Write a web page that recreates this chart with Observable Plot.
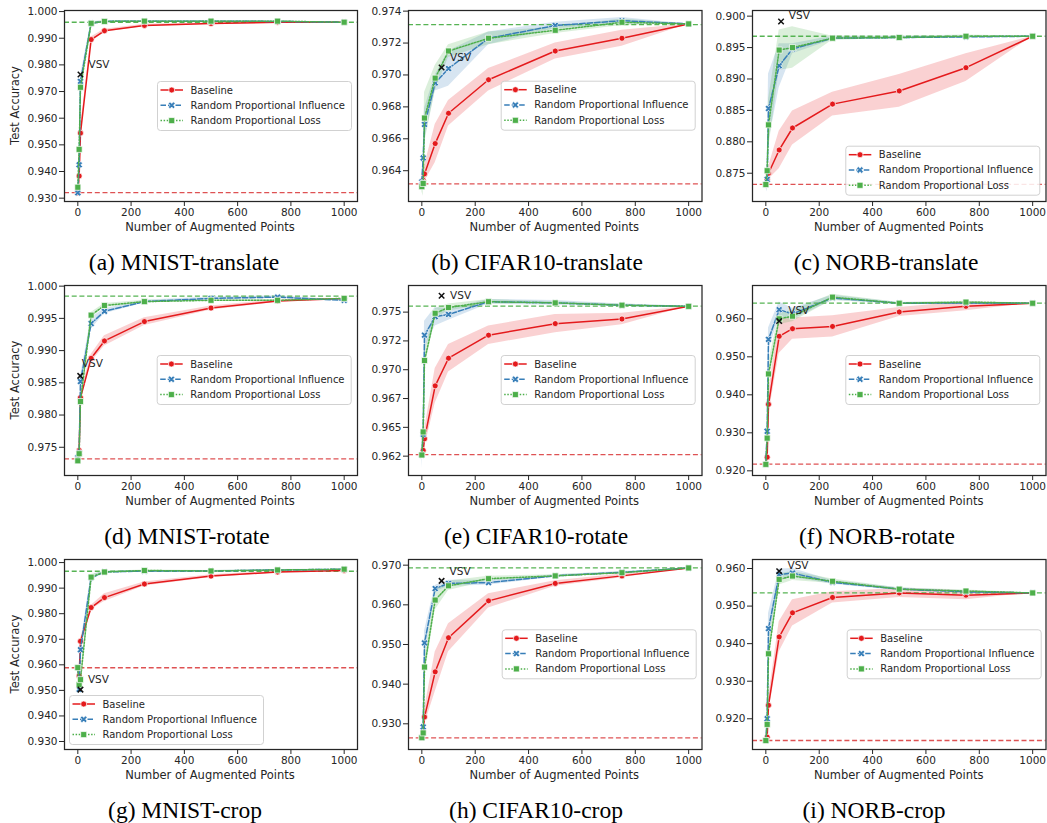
<!DOCTYPE html>
<html><head><meta charset="utf-8">
<script src="https://cdn.jsdelivr.net/npm/d3@7"></script>
<script src="https://cdn.jsdelivr.net/npm/@observablehq/plot@0.6"></script>
<style>
html,body{margin:0;padding:0;background:#fff;}
#page{position:relative;width:1047px;height:823px;overflow:hidden;font-family:"DejaVu Sans",sans-serif;}
.panel{position:absolute;}
.panel svg{max-width:none;display:block;}
#overlay{position:absolute;left:0;top:0;pointer-events:none;}
</style></head><body><div id="page"></div>
<script>
// ---------------- DATA ----------------
const xPoints = [0, 5, 10, 50, 100, 250, 500, 750, 1000];
const xTicks = [0, 200, 400, 600, 800, 1000];
const xTickLabels = ["0", "200", "400", "600", "800", "1000"];
const seriesNames = ["Baseline", "Random Proportional Influence", "Random Proportional Loss"];
const captions = ["(a) MNIST-translate", "(b) CIFAR10-translate", "(c) NORB-translate",
                  "(d) MNIST-rotate", "(e) CIFAR10-rotate", "(f) NORB-rotate",
                  "(g) MNIST-crop", "(h) CIFAR10-crop", "(i) NORB-crop"];

// (a) MNIST-translate
const aBaseline  = [0.9320, 0.9383, 0.9544, 0.9895, 0.9928, 0.9948, 0.9955, 0.9960, 0.9960];
const aInfluence = [0.9320, 0.9425, 0.9738, 0.9956, 0.9963, 0.9964, 0.9964, 0.9963, 0.9960];
const aLoss      = [0.9341, 0.9483, 0.9716, 0.9956, 0.9963, 0.9964, 0.9964, 0.9964, 0.9960];
const aBaseCI = [0, 0.0015, 0.002, 0.001, 0.0006, 0.0004, 0.0003, 0.0002, 0];
const aInflCI = [0, 0.0015, 0.002, 0.0006, 0.0003, 0.0002, 0.0002, 0.0002, 0];
const aLossCI = [0.0005, 0.0015, 0.002, 0.0006, 0.0003, 0.0002, 0.0002, 0.0002, 0];
// (b) CIFAR10-translate
const bBaseline  = [0.9632, 0.9634, 0.9638, 0.9657, 0.9676, 0.9697, 0.9715, 0.9723, 0.9732];
const bInfluence = [0.9633, 0.9648, 0.9669, 0.9695, 0.9704, 0.9723, 0.9731, 0.9734, 0.9732];
const bLoss      = [0.9630, 0.9632, 0.9673, 0.9698, 0.9715, 0.9723, 0.9728, 0.9733, 0.9732];
const bBaseCI = [0.0001, 0.0003, 0.0005, 0.0012, 0.0008, 0.0007, 0.0005, 0.0005, 0];
const bInflCI = [0.0002, 0.0005, 0.001, 0.0005, 0.0011, 0.0004, 0.0002, 0.0002, 0];
const bLossCI = [0.0003, 0.0008, 0.0016, 0.0008, 0.0004, 0.0004, 0.0002, 0.0002, 0];
// (c) NORB-translate
const cBaseline  = [0.8732, 0.8740, 0.8750, 0.8787, 0.8822, 0.8860, 0.8881, 0.8918, 0.8968];
const cInfluence = [0.8732, 0.8740, 0.8853, 0.8921, 0.8948, 0.8965, 0.8966, 0.8967, 0.8968];
const cLoss      = [0.8732, 0.8754, 0.8827, 0.8946, 0.8950, 0.8965, 0.8966, 0.8968, 0.8968];
const cBaseCI = [0.0003, 0.0008, 0.001, 0.003, 0.0027, 0.0019, 0.0026, 0.0022, 0];
const cInflCI = [0.0005, 0.002, 0.0055, 0.0035, 0.0008, 0.0003, 0.0002, 0.0002, 0];
const cLossCI = [0.0005, 0.002, 0.004, 0.0032, 0.0033, 0.0003, 0.0002, 0.0002, 0];
// (d) MNIST-rotate
const dBaseline  = [0.9732, 0.9745, 0.9827, 0.9888, 0.9915, 0.9945, 0.9966, 0.9977, 0.9981];
const dInfluence = [0.9734, 0.9741, 0.9852, 0.9942, 0.9961, 0.9976, 0.9981, 0.9983, 0.9978];
const dLoss      = [0.9729, 0.9740, 0.9821, 0.9955, 0.9970, 0.9976, 0.9978, 0.9978, 0.9981];
const dBaseCI = [0.0002, 0.0005, 0.0008, 0.0006, 0.0008, 0.0006, 0.0003, 0.0002, 0];
const dInflCI = [0.0003, 0.0005, 0.0008, 0.0009, 0.0004, 0.0002, 0.0002, 0.0002, 0];
const dLossCI = [0.0006, 0.0005, 0.0008, 0.0004, 0.0003, 0.0002, 0.0001, 0.0001, 0];
// (e) CIFAR10-rotate
const eBaseline  = [0.9626, 0.9630, 0.9640, 0.9686, 0.9710, 0.9730, 0.9740, 0.9744, 0.9755];
const eInfluence = [0.9626, 0.9644, 0.9730, 0.9746, 0.9748, 0.9759, 0.9758, 0.9756, 0.9755];
const eLoss      = [0.9626, 0.9646, 0.9708, 0.9749, 0.9754, 0.9759, 0.9758, 0.9756, 0.9755];
const eBaseCI = [0.0001, 0.0005, 0.0008, 0.0015, 0.0012, 0.0008, 0.0008, 0.0005, 0];
const eInflCI = [0.0012, 0.0008, 0.0012, 0.0008, 0.0005, 0.0002, 0.0002, 0.0001, 0];
const eLossCI = [0.0003, 0.0008, 0.0008, 0.0004, 0.0003, 0.0002, 0.0001, 0.0001, 0];
// (f) NORB-rotate
const fBaseline  = [0.9217, 0.9236, 0.9375, 0.9554, 0.9574, 0.9580, 0.9618, 0.9633, 0.9641];
const fInfluence = [0.9217, 0.9304, 0.9546, 0.9624, 0.9613, 0.9655, 0.9641, 0.9642, 0.9641];
const fLoss      = [0.9217, 0.9286, 0.9455, 0.9600, 0.9607, 0.9657, 0.9641, 0.9644, 0.9641];
const fBaseCI = [0.0005, 0.002, 0.003, 0.0045, 0.0028, 0.0028, 0.0012, 0.0012, 0];
const fInflCI = [0.0005, 0.002, 0.003, 0.002, 0.0015, 0.0007, 0.0002, 0.0002, 0];
const fLossCI = [0.0005, 0.002, 0.003, 0.0015, 0.0015, 0.0008, 0.0002, 0.0002, 0];
// (g) MNIST-crop
const gBaseline  = [0.9589, 0.9556, 0.9692, 0.9824, 0.9863, 0.9916, 0.9947, 0.9963, 0.9969];
const gInfluence = [0.9589, 0.9504, 0.9659, 0.9941, 0.9963, 0.9967, 0.9967, 0.9971, 0.9974];
const gLoss      = [0.9589, 0.9522, 0.9542, 0.9943, 0.9963, 0.9969, 0.9967, 0.9971, 0.9974];
const gBaseCI = [0.0005, 0.001, 0.001, 0.0008, 0.0015, 0.0008, 0.0005, 0.0004, 0];
const gInflCI = [0.001, 0.002, 0.002, 0.001, 0.0003, 0.0002, 0.0002, 0.0002, 0];
const gLossCI = [0.001, 0.002, 0.002, 0.001, 0.0003, 0.0002, 0.0002, 0.0002, 0];
// (h) CIFAR10-crop
const hBaseline  = [0.9265, 0.9280, 0.9317, 0.9431, 0.9517, 0.9610, 0.9654, 0.9673, 0.9693];
const hInfluence = [0.9265, 0.9292, 0.9504, 0.9641, 0.9654, 0.9656, 0.9673, 0.9682, 0.9693];
const hLoss      = [0.9265, 0.9277, 0.9443, 0.9612, 0.9648, 0.9666, 0.9673, 0.9681, 0.9693];
const hBaseCI = [0.0003, 0.001, 0.002, 0.005, 0.0035, 0.0018, 0.0007, 0.0005, 0];
const hInflCI = [0.0003, 0.001, 0.003, 0.0008, 0.0008, 0.0006, 0.0003, 0.0002, 0];
const hLossCI = [0.0003, 0.001, 0.003, 0.0025, 0.0012, 0.0006, 0.0003, 0.0002, 0];
// (i) NORB-crop
const iBaseline  = [0.9142, 0.9151, 0.9236, 0.9418, 0.9482, 0.9523, 0.9535, 0.9529, 0.9535];
const iInfluence = [0.9142, 0.9200, 0.9440, 0.9584, 0.9588, 0.9563, 0.9545, 0.9538, 0.9535];
const iLoss      = [0.9142, 0.9185, 0.9373, 0.9571, 0.9580, 0.9566, 0.9545, 0.9540, 0.9535];
const iBaseCI = [0.0003, 0.001, 0.002, 0.004, 0.0035, 0.0015, 0.0012, 0.0012, 0];
const iInflCI = [0.0005, 0.002, 0.004, 0.0015, 0.0012, 0.0005, 0.0004, 0.0003, 0];
const iLossCI = [0.0005, 0.002, 0.003, 0.0015, 0.0012, 0.0006, 0.0003, 0.0003, 0];

// reference lines: no augmentation / full augmentation
const noAugAcc   = [0.9321, 0.96318, 0.87324, 0.9732, 0.96264, 0.92175, 0.95886, 0.92646, 0.91422];
const fullAugAcc = [0.9960, 0.97316, 0.8968, 0.99845, 0.97552, 0.96412, 0.9966, 0.96933, 0.95351];
// VSV point and its label anchor (data coordinates)
const vsvX = [10, 74, 57, 9, 74, 50, 10, 74, 50];
const vsvY = [0.9764, 0.97047, 0.89915, 0.98608, 0.97642, 0.9594, 0.9503, 0.96604, 0.9593];
const vsvLabelX = [40, 106, 86, 15, 106, 84, 38, 104, 81];
const vsvLabelY = [0.9801, 0.9711, 0.9001, 0.9880, 0.97642, 0.9622, 0.9542, 0.96832, 0.9609];

// y axis ranges and tick labels
const yDomains = [[0.92875, 1.0004], [0.96207, 0.97404], [0.8705, 0.9009],
                  [0.97062, 1.0001], [0.96082, 0.97731], [0.91877, 0.96877],
                  [0.92687, 1.0012], [0.92352, 0.97143], [0.91182, 0.9624]];
const yTicksA = [0.93, 0.94, 0.95, 0.96, 0.97, 0.98, 0.99, 1.00];
const yLabelsA = ["0.930","0.940","0.950","0.960","0.970","0.980","0.990","1.000"];
const yTicksB = [0.964, 0.966, 0.968, 0.970, 0.972, 0.974];
const yLabelsB = ["0.964","0.966","0.968","0.970","0.972","0.974"];
const yTicksC = [0.875, 0.880, 0.885, 0.890, 0.895, 0.900];
const yLabelsC = ["0.875","0.880","0.885","0.890","0.895","0.900"];
const yTicksD = [0.975, 0.980, 0.985, 0.990, 0.995, 1.000];
const yLabelsD = ["0.975","0.980","0.985","0.990","0.995","1.000"];
const yTicksE = [0.9625, 0.965, 0.9675, 0.970, 0.9725, 0.975];
const yLabelsE = ["0.962","0.965","0.967","0.970","0.972","0.975"];
const yTicksF = [0.92, 0.93, 0.94, 0.95, 0.96];
const yLabelsF = ["0.920","0.930","0.940","0.950","0.960"];
const yTicksG = yTicksA, yLabelsG = yLabelsA;
const yTicksH = [0.93, 0.94, 0.95, 0.96, 0.97];
const yLabelsH = ["0.930","0.940","0.950","0.960","0.970"];
const yTicksI = [0.92, 0.93, 0.94, 0.95, 0.96];
const yLabelsI = ["0.920","0.930","0.940","0.950","0.960"];

// ---------------- LAYOUT / STYLE ----------------
const colors = ["#e41a1c", "#377eb8", "#4daf4a"];
const dashes = [null, "5.5,2", "1.5,1.6"];
const colL = [63.5, 407.5, 752], colR = [356.5, 701, 1045.5];
const rowT = [10, 285, 559], rowB = [201, 475, 749];
const captionX = [184, 537, 886, 187, 536, 877, 185, 536, 874];
const legendPos = [[157, 81], [500.7, 80.7], [845.3, 145.7], [156.7, 355], [500.7, 355], [845.3, 355], [69, 695], [501.7, 629.3], [846.7, 629.3]];
const ink = "#262626";

const series = [
  [aBaseline, aInfluence, aLoss, aBaseCI, aInflCI, aLossCI, yTicksA, yLabelsA],
  [bBaseline, bInfluence, bLoss, bBaseCI, bInflCI, bLossCI, yTicksB, yLabelsB],
  [cBaseline, cInfluence, cLoss, cBaseCI, cInflCI, cLossCI, yTicksC, yLabelsC],
  [dBaseline, dInfluence, dLoss, dBaseCI, dInflCI, dLossCI, yTicksD, yLabelsD],
  [eBaseline, eInfluence, eLoss, eBaseCI, eInflCI, eLossCI, yTicksE, yLabelsE],
  [fBaseline, fInfluence, fLoss, fBaseCI, fInflCI, fLossCI, yTicksF, yLabelsF],
  [gBaseline, gInfluence, gLoss, gBaseCI, gInflCI, gLossCI, yTicksG, yLabelsG],
  [hBaseline, hInfluence, hLoss, hBaseCI, hInflCI, hLossCI, yTicksH, yLabelsH],
  [iBaseline, iInfluence, iLoss, iBaseCI, iInflCI, iLossCI, yTicksI, yLabelsI]
];

// filled "X" marker like matplotlib's 'X'
const symbolX = {
  draw(context, size) {
    const r = Math.sqrt(size / Math.PI) * 1.1, t = r * 0.34, c = Math.SQRT1_2;
    const pts = [[t,r],[t,t],[r,t],[r,-t],[t,-t],[t,-r],[-t,-r],[-t,-t],[-r,-t],[-r,t],[-t,t],[-t,r]];
    pts.forEach(([x, y], k) => { const X = (x - y) * c, Y = (x + y) * c; k ? context.lineTo(X, Y) : context.moveTo(X, Y); });
    context.closePath();
  }
};
const symbols = ["circle", symbolX, "square"];
const symbolR = [3, 3.3, 3.4];

const page = document.getElementById("page");
const ML = 58, MR = 14, MT = 8, MB = 32;

series.forEach((s, p) => {
  const r = Math.floor(p / 3), c = p % 3;
  const fw = colR[c] - colL[c], fh = rowB[r] - rowT[r];
  const ticks = s[6], labels = s[7];
  const marks = [];
  for (let k = 0; k < 3; k++) {
    const rows = xPoints.map((x, j) => ({x, y: s[k][j], lo: s[k][j] - s[k + 3][j], hi: s[k][j] + s[k + 3][j]}));
    marks.push(Plot.areaY(rows, {x: "x", y1: "lo", y2: "hi", fill: colors[k], fillOpacity: 0.2}));
  }
  marks.push(Plot.ruleY([noAugAcc[p]], {stroke: "#d62728", strokeOpacity: 0.8, strokeWidth: 1.3, strokeDasharray: "5,2.7"}));
  marks.push(Plot.ruleY([fullAugAcc[p]], {stroke: "#4daf4a", strokeOpacity: 0.95, strokeWidth: 1.3, strokeDasharray: "5,2.7"}));
  for (let k = 0; k < 3; k++) {
    const rows = xPoints.map((x, j) => ({x, y: s[k][j]}));
    marks.push(Plot.lineY(rows, {x: "x", y: "y", stroke: colors[k], strokeWidth: 1.5, strokeDasharray: dashes[k]}));
    marks.push(Plot.dot(rows, {x: "x", y: "y", symbol: symbols[k], r: symbolR[k], fill: colors[k], stroke: "white", strokeWidth: 0.7}));
  }
  marks.push(Plot.dot([{x: vsvX[p], y: vsvY[p]}], {x: "x", y: "y", symbol: "times", r: 2.6, stroke: "#111", strokeWidth: 1.5}));
  marks.push(Plot.text([{x: vsvLabelX[p], y: vsvLabelY[p]}], {x: "x", y: "y", text: () => "VSV", textAnchor: "start", lineAnchor: "middle", fontSize: 10.5, fill: ink}));
  marks.push(Plot.frame({stroke: ink, strokeWidth: 1.25}));

  const chart = Plot.plot({
    width: fw + ML + MR, height: fh + MT + MB,
    marginLeft: ML, marginRight: MR, marginTop: MT, marginBottom: MB,
    style: {fontFamily: "DejaVu Sans", fontSize: "10.5px", color: ink, background: "transparent", overflow: "visible"},
    x: {domain: [-50, 1050], ticks: xTicks, tickSize: 5, tickPadding: 2, label: null,
        tickFormat: d => xTickLabels[xTicks.indexOf(d)]},
    y: {domain: yDomains[p], ticks: ticks, tickSize: 5, tickPadding: 2, label: null,
        tickFormat: d => labels[ticks.findIndex(t => Math.abs(t - d) < 1e-9)]},
    marks
  });
  const div = document.createElement("div");
  div.className = "panel";
  div.style.left = (colL[c] - ML) + "px";
  div.style.top = (rowT[r] - MT) + "px";
  div.appendChild(chart);
  page.appendChild(div);
});

// overlay: axis titles, legends, captions
const ov = d3.create("svg").attr("id", "overlay").attr("width", 1047).attr("height", 823)
  .attr("font-family", "DejaVu Sans").attr("fill", ink);
for (let p = 0; p < 9; p++) {
  const r = Math.floor(p / 3), c = p % 3;
  const cx = (colL[c] + colR[c]) / 2, cy = (rowT[r] + rowB[r]) / 2;
  ov.append("text").attr("x", cx).attr("y", rowB[r] + 26).attr("text-anchor", "middle")
    .attr("dominant-baseline", "central").attr("font-size", 11.5).text("Number of Augmented Points");
  if (c === 0) {
    ov.append("text").attr("transform", `translate(15,${cy}) rotate(-90)`).attr("text-anchor", "middle")
      .attr("dominant-baseline", "central").attr("font-size", 11.5).text("Test Accuracy");
  }
  ov.append("text").attr("x", captionX[p]).attr("y", rowB[r] + 61).attr("text-anchor", "middle")
    .attr("dominant-baseline", "central").attr("font-family", "Liberation Serif, Times New Roman, serif")
    .attr("font-size", 23.5).attr("fill", "#000").text(captions[p]);

  const [lx, ly] = legendPos[p];
  const g = ov.append("g").attr("transform", `translate(${lx},${ly})`);
  g.append("rect").attr("x", 0.5).attr("y", 0.5).attr("width", 194).attr("height", 49).attr("rx", 3)
    .attr("fill", "white").attr("fill-opacity", 0.85).attr("stroke", "#cccccc").attr("stroke-width", 0.9);
  seriesNames.forEach((name, k) => {
    const yy = 9 + k * 15.3;
    g.append("line").attr("x1", 3.5).attr("x2", 26).attr("y1", yy).attr("y2", yy)
      .attr("stroke", colors[k]).attr("stroke-width", 1.5).attr("stroke-dasharray", dashes[k]);
    const sym = d3.symbol().type(k === 0 ? d3.symbolCircle : k === 1 ? symbolX : d3.symbolSquare)
      .size(symbolR[k] * symbolR[k] * Math.PI);
    g.append("path").attr("d", sym()).attr("transform", `translate(14.7,${yy})`)
      .attr("fill", colors[k]).attr("stroke", "white").attr("stroke-width", 0.7);
    g.append("text").attr("x", 33.5).attr("y", yy).attr("dominant-baseline", "central")
      .attr("font-size", 10).text(name);
  });
}
page.appendChild(ov.node());
</script>
</body></html>
